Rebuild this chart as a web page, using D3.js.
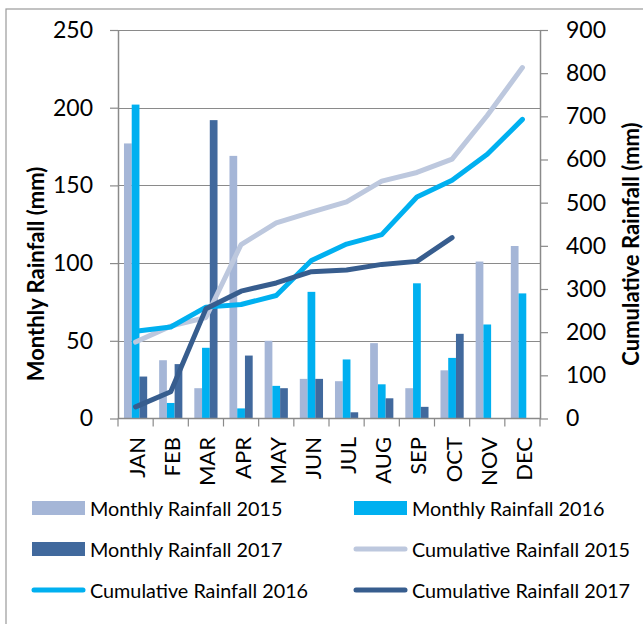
<!DOCTYPE html>
<html>
<head>
<meta charset="utf-8">
<script src="https://cdn.jsdelivr.net/npm/d3@7"></script>
<style>
  html, body { margin: 0; padding: 0; background: #fff; }
  svg { display: block; font-family: Lato, "Open Sans", sans-serif; }
</style>
</head>
<body>
<svg id="chart" width="643" height="624"></svg>
<script>
// Months on the category axis
const months = ["JAN","FEB","MAR","APR","MAY","JUN","JUL","AUG","SEP","OCT","NOV","DEC"];

// Monthly rainfall (mm), left axis
const monthly2015 = [177, 37.5, 19.5, 169, 50, 25.5, 24, 48.5, 19.5, 31, 101, 111];
const monthly2016 = [202, 10, 45.5, 6.5, 21, 81.5, 38, 22, 87, 39, 60.5, 80.5];
const monthly2017 = [27, 35, 192, 40.5, 19.5, 25.5, 4, 13, 7.5, 54.5, null, null];

// Cumulative rainfall (mm), right axis
const cumulative2015 = [177, 214, 234, 403, 453, 478, 502, 550, 570, 601, 702, 813];
const cumulative2016 = [202, 212, 258, 264, 285, 366, 404, 426, 513, 552, 612, 693];
const cumulative2017 = [27, 62, 254, 295, 314, 340, 344, 357, 364, 419, null, null];

// Axis tick values
const leftTicks = [0, 50, 100, 150, 200, 250];
const rightTicks = [0, 100, 200, 300, 400, 500, 600, 700, 800, 900];

const barSeries = [
  { name: "Monthly Rainfall 2015", values: monthly2015, color: "#a5b6d7" },
  { name: "Monthly Rainfall 2016", values: monthly2016, color: "#00b0f0" },
  { name: "Monthly Rainfall 2017", values: monthly2017, color: "#41699d" }
];
const lineSeries = [
  { name: "Cumulative Rainfall 2015", values: cumulative2015, color: "#bdc8de" },
  { name: "Cumulative Rainfall 2016", values: cumulative2016, color: "#00b0f0" },
  { name: "Cumulative Rainfall 2017", values: cumulative2017, color: "#375d8e" }
];

const svg = d3.select("#chart");
const plot = { left: 118, right: 540, top: 30, bottom: 418.5 };
const axisColor = "#8a8a8a";

// Outer chart frame
svg.append("rect")
  .attr("x", 6).attr("y", 9).attr("width", 700).attr("height", 700)
  .attr("fill", "none").attr("stroke", "#9a9a9a").attr("stroke-width", 1.2);

const x0 = d3.scaleBand().domain(months).range([plot.left, plot.right])
  .paddingInner(0.34).paddingOuter(0.17);
const x1 = d3.scaleBand().domain(barSeries.map(d => d.name)).range([0, x0.bandwidth()]);
const yL = d3.scaleLinear().domain([0, 250]).range([plot.bottom, plot.top]);
const yR = d3.scaleLinear().domain([0, 900]).range([plot.bottom, plot.top]);
const cx = m => x0(m) + x0.bandwidth() / 2;

// Horizontal gridlines
svg.append("g").selectAll("line").data(leftTicks.slice(1)).join("line")
  .attr("x1", plot.left).attr("x2", plot.right)
  .attr("y1", d => Math.round(yL(d)) + 0.5).attr("y2", d => Math.round(yL(d)) + 0.5)
  .attr("stroke", axisColor).attr("stroke-width", 1.2);

// Clustered bars
const groups = svg.append("g").selectAll("g").data(barSeries).join("g")
  .attr("fill", d => d.color);
groups.selectAll("rect")
  .data(s => s.values.map((v, i) => ({ s: s.name, m: months[i], v })).filter(d => d.v != null))
  .join("rect")
  .attr("x", d => x0(d.m) + x1(d.s))
  .attr("width", x1.bandwidth())
  .attr("y", d => yL(d.v))
  .attr("height", d => yL(0) - yL(d.v));

// Cumulative lines
const line = d3.line()
  .defined(d => d.v != null)
  .x(d => cx(d.m)).y(d => yR(d.v));
svg.append("g").selectAll("path").data(lineSeries).join("path")
  .attr("d", s => line(s.values.map((v, i) => ({ m: months[i], v }))))
  .attr("fill", "none").attr("stroke", s => s.color)
  .attr("stroke-width", 5).attr("stroke-linecap", "round").attr("stroke-linejoin", "round");

// Left axis
const gL = svg.append("g").attr("transform", `translate(${plot.left},0)`)
  .call(d3.axisLeft(yL).tickValues(leftTicks).tickSizeInner(8).tickSizeOuter(0).tickPadding(17));
// Right axis
const gR = svg.append("g").attr("transform", `translate(${plot.right},0)`)
  .call(d3.axisRight(yR).tickValues(rightTicks).tickSizeInner(8).tickSizeOuter(0).tickPadding(18));
[gL, gR].forEach(g => {
  g.select(".domain").attr("stroke", axisColor).attr("stroke-width", 1.5);
  g.selectAll(".tick line").attr("stroke", axisColor).attr("stroke-width", 1.2);
  g.selectAll(".tick text").attr("fill", "#000").style("font-size", "23px")
    .style("font-family", "Lato, sans-serif");
});

// Category axis: baseline, boundary ticks and rotated month labels
const gB = svg.append("g");
gB.append("line").attr("x1", plot.left).attr("x2", plot.right)
  .attr("y1", plot.bottom).attr("y2", plot.bottom)
  .attr("stroke", axisColor).attr("stroke-width", 1.5);
gB.selectAll("line.tick").data(d3.range(months.length + 1)).join("line")
  .attr("class", "tick")
  .attr("x1", i => plot.left + i * x0.step()).attr("x2", i => plot.left + i * x0.step())
  .attr("y1", plot.bottom).attr("y2", plot.bottom + 8)
  .attr("stroke", axisColor).attr("stroke-width", 1.2);
gB.selectAll("text").data(months).join("text")
  .attr("transform", m => `translate(${cx(m) + 1},437) rotate(-90)`)
  .attr("text-anchor", "end").attr("dominant-baseline", "central")
  .style("font-size", "22px").text(m => m);

// Axis titles
svg.append("text")
  .attr("transform", "translate(35,274) rotate(-90)")
  .attr("text-anchor", "middle").attr("dominant-baseline", "central")
  .style("font-size", "22px").style("font-weight", "bold").text("Monthly Rainfall (mm)");
svg.append("text")
  .attr("transform", "translate(630,244) rotate(-90)")
  .attr("text-anchor", "middle").attr("dominant-baseline", "central")
  .style("font-size", "22px").style("font-weight", "bold").text("Cumulative Rainfall (mm)");

// Legend: two columns, three rows
const legendItems = [
  { ...barSeries[0], kind: "bar" }, { ...barSeries[1], kind: "bar" },
  { ...barSeries[2], kind: "bar" }, { ...lineSeries[0], kind: "line" },
  { ...lineSeries[1], kind: "line" }, { ...lineSeries[2], kind: "line" }
];
const legend = svg.append("g").selectAll("g").data(legendItems).join("g")
  .attr("transform", (d, i) => `translate(${i % 2 === 0 ? 32 : 354},${508 + Math.floor(i / 2) * 41})`);
legend.filter(d => d.kind === "bar").append("rect")
  .attr("x", 0).attr("y", -7).attr("width", 53).attr("height", 14).attr("fill", d => d.color);
legend.filter(d => d.kind === "line").append("line")
  .attr("x1", 2).attr("x2", 51).attr("y1", 0).attr("y2", 0)
  .attr("stroke", d => d.color).attr("stroke-width", 5).attr("stroke-linecap", "round");
legend.append("text").attr("x", 58).attr("y", 0).attr("dominant-baseline", "central")
  .style("font-size", "19.8px").text(d => d.name);
</script>
</body>
</html>
